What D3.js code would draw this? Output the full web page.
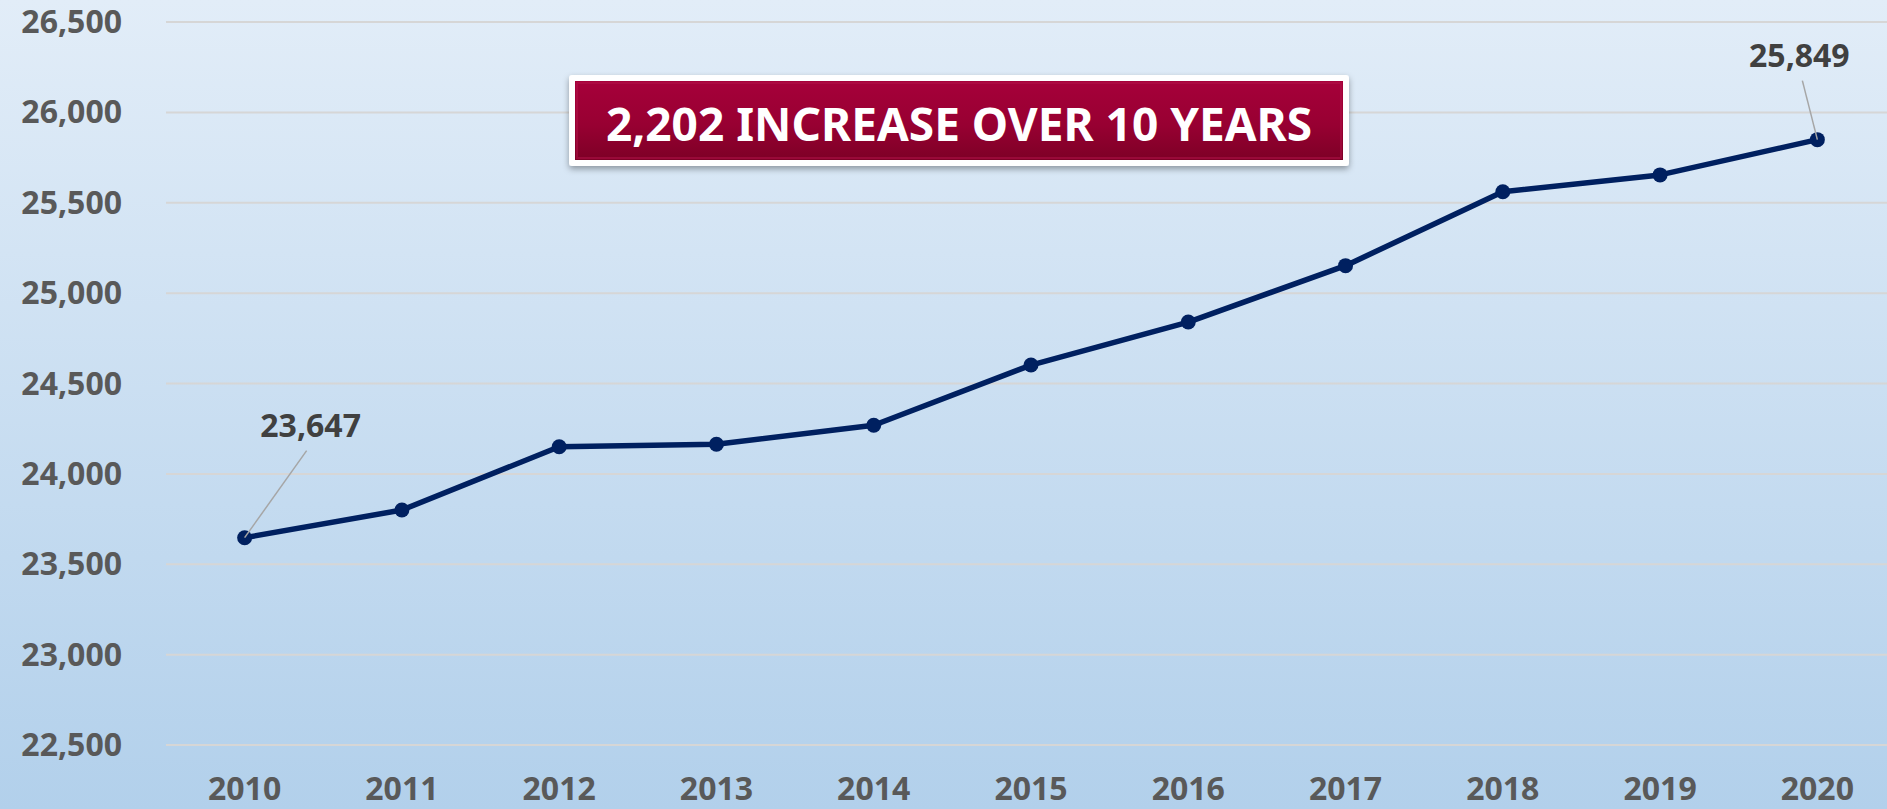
<!DOCTYPE html>
<html lang="en">
<head>
    <meta charset="UTF-8">
    <title>Growth 2010-2020</title>
    <script src="https://d3js.org/d3.v7.min.js"></script>
    <style>
        body, html { width: 100%; height: 100%; margin: 0; overflow: hidden; }
        svg { display: block; }
        text { font-family: "Noto Sans", "Open Sans", sans-serif; font-weight: 700; }
        .tick-label { font-size: 32px; fill: #595959; }
        .data-label { font-size: 32px; fill: #404040; }
    </style>
</head>
<body>
<script>
    // chart data
    const years = ["2010", "2011", "2012", "2013", "2014", "2015", "2016", "2017", "2018", "2019", "2020"];
    const values = [23647, 23800, 24150, 24164, 24269, 24602, 24840, 25152, 25561, 25654, 25849];
    const yTicks = [22500, 23000, 23500, 24000, 24500, 25000, 25500, 26000, 26500];
    const labelled = ["2010", "2020"];
    const headline = "2,202 INCREASE OVER 10 YEARS";

    const width = 1887, height = 809;
    const svg = d3.select("body").append("svg")
        .attr("width", width)
        .attr("height", height);

    const defs = svg.append("defs");

    const bg = defs.append("linearGradient")
        .attr("id", "bg").attr("x1", 0).attr("y1", 0).attr("x2", 0).attr("y2", 1);
    bg.append("stop").attr("offset", "0%").attr("stop-color", "#e2edf8");
    bg.append("stop").attr("offset", "100%").attr("stop-color", "#b2d0eb");

    const red = defs.append("linearGradient")
        .attr("id", "red").attr("x1", 0).attr("y1", 0).attr("x2", 0).attr("y2", 1);
    red.append("stop").attr("offset", "0%").attr("stop-color", "#a6003a");
    red.append("stop").attr("offset", "55%").attr("stop-color", "#980032");
    red.append("stop").attr("offset", "100%").attr("stop-color", "#7d0026");

    const shadow = defs.append("filter").attr("id", "shadow")
        .attr("x", "-5%").attr("y", "-20%").attr("width", "110%").attr("height", "150%");
    shadow.append("feDropShadow")
        .attr("dx", 0).attr("dy", 3).attr("stdDeviation", 3)
        .attr("flood-color", "#000").attr("flood-opacity", 0.35);

    svg.append("rect")
        .attr("width", width).attr("height", height)
        .attr("fill", "url(#bg)");

    const x = d3.scalePoint()
        .domain(years)
        .range([166, 1896])
        .padding(0.5);

    const y = d3.scaleLinear()
        .domain([22500, 26500])
        .range([745, 22]);

    // gridlines
    svg.append("g")
        .selectAll("line")
        .data(yTicks)
        .join("line")
        .attr("x1", 166)
        .attr("x2", width)
        .attr("y1", d => y(d))
        .attr("y2", d => y(d))
        .attr("stroke", "#d6d6d6")
        .attr("stroke-width", 2);

    // y axis labels
    svg.append("g")
        .selectAll("text")
        .data(yTicks)
        .join("text")
        .attr("class", "tick-label")
        .attr("x", 122)
        .attr("y", d => y(d) + 11)
        .attr("text-anchor", "end")
        .text(d => d3.format(",")(d));

    // x axis labels
    svg.append("g")
        .selectAll("text")
        .data(years)
        .join("text")
        .attr("class", "tick-label")
        .attr("x", d => x(d))
        .attr("y", 800)
        .attr("text-anchor", "middle")
        .text(d => d);

    const points = years.map((yr, i) => ({ year: yr, value: values[i] }));

    svg.append("path")
        .datum(points)
        .attr("fill", "none")
        .attr("stroke", "#002060")
        .attr("stroke-width", 5.5)
        .attr("stroke-linejoin", "round")
        .attr("d", d3.line().x(d => x(d.year)).y(d => y(d.value)));

    svg.append("g")
        .selectAll("circle")
        .data(points)
        .join("circle")
        .attr("cx", d => x(d.year))
        .attr("cy", d => y(d.value))
        .attr("r", 7.5)
        .attr("fill", "#002060");

    // data labels with leader lines
    const labelOffset = { "2010": [66, -101], "2020": [-18, -73] };
    const lab = svg.append("g")
        .selectAll("g")
        .data(points.filter(d => labelled.includes(d.year)))
        .join("g");
    lab.append("line")
        .attr("x1", d => x(d.year))
        .attr("y1", d => y(d.value))
        .attr("x2", d => x(d.year) + labelOffset[d.year][0] - (d.year === "2010" ? 4 : -3))
        .attr("y2", d => y(d.value) + labelOffset[d.year][1] + 14)
        .attr("stroke", "#a6a6a6")
        .attr("stroke-width", 1.5);
    lab.append("text")
        .attr("class", "data-label")
        .attr("x", d => x(d.year) + labelOffset[d.year][0])
        .attr("y", d => y(d.value) + labelOffset[d.year][1])
        .attr("text-anchor", "middle")
        .text(d => d3.format(",")(d.value));

    // headline box
    const box = svg.append("g");
    box.append("rect")
        .attr("x", 569).attr("y", 75)
        .attr("width", 780).attr("height", 91)
        .attr("rx", 3)
        .attr("fill", "#ffffff")
        .attr("filter", "url(#shadow)");
    box.append("rect")
        .attr("x", 575).attr("y", 81)
        .attr("width", 768).attr("height", 79)
        .attr("fill", "url(#red)");
    box.append("rect")
        .attr("x", 577).attr("y", 83)
        .attr("width", 764).attr("height", 75)
        .attr("fill", "none")
        .attr("stroke", "#b3124a")
        .attr("stroke-opacity", 0.5)
        .attr("stroke-width", 2);
    box.append("text")
        .attr("x", 959)
        .attr("y", 141)
        .attr("text-anchor", "middle")
        .attr("fill", "#ffffff")
        .style("font-size", "46px")
        .text(headline);
</script>
</body>
</html>
